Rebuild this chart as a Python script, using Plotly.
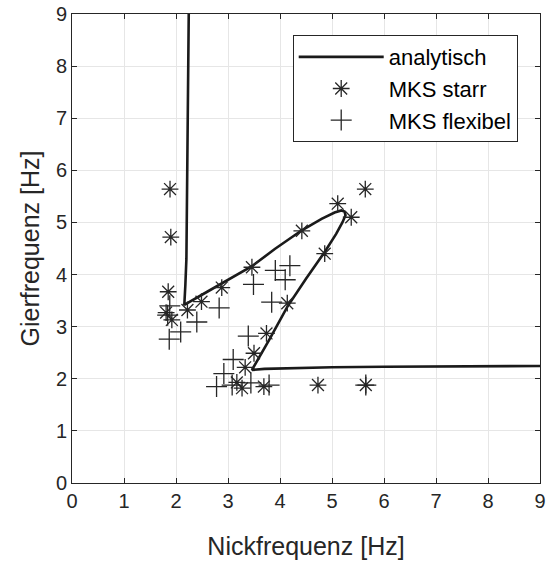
import plotly.graph_objects as go

# analytical curve (Nickfrequenz, Gierfrequenz) in Hz
curve_x = [2.245, 2.235, 2.225, 2.215, 2.20, 2.18, 2.16,
           2.6, 3.0, 3.46, 3.9, 4.42, 4.8, 5.05, 5.18, 5.24, 5.26,
           5.2, 5.08, 4.85, 4.5, 4.14, 3.8, 3.46,
           3.7, 4.2, 5.0, 6.0, 7.0, 8.0, 9.0]
curve_y = [9.0, 7.5, 6.0, 5.0, 4.3, 3.8, 3.42,
           3.67, 3.9, 4.16, 4.49, 4.85, 5.07, 5.19, 5.23, 5.21, 5.14,
           5.0, 4.78, 4.42, 3.92, 3.38, 2.76, 2.17,
           2.19, 2.205, 2.22, 2.23, 2.235, 2.24, 2.245]

# MKS starr
starr_x = [1.885, 1.90, 1.85, 1.81, 1.92, 2.22, 2.49, 2.88, 3.46, 4.42, 5.11, 5.37,
           5.64, 4.86, 4.14, 3.74, 3.50, 3.33, 3.17, 3.27, 3.69, 4.73, 5.65]
starr_y = [5.64, 4.72, 3.67, 3.27, 3.13, 3.32, 3.48, 3.75, 4.14, 4.84, 5.36, 5.10,
           5.64, 4.40, 3.45, 2.87, 2.49, 2.22, 1.93, 1.82, 1.85, 1.88, 1.88]

# MKS flexibel
flex_x = [1.88, 1.84, 2.40, 2.83, 2.09, 1.87, 3.49, 3.91, 4.19, 4.10, 3.84,
          3.39, 3.10, 2.92, 2.78, 3.08, 3.44, 3.79, 5.65]
flex_y = [3.40, 3.22, 3.09, 3.36, 2.90, 2.76, 3.81, 4.08, 4.17, 3.90, 3.47,
          2.82, 2.37, 2.10, 1.85, 1.88, 1.92, 1.88, 1.88]

ticks = list(range(0, 10))
dark = "#262626"
font_family = "Liberation Sans, Arial, sans-serif"

fig = go.Figure()
fig.add_trace(go.Scatter(x=curve_x, y=curve_y, mode="lines", name="analytisch",
                         line=dict(color="#1a1a1a", width=2.6)))
fig.add_trace(go.Scatter(x=starr_x, y=starr_y, mode="markers", name="MKS starr",
                         marker=dict(symbol="asterisk-open", size=14, color=dark,
                                     line=dict(color=dark, width=1.3))))
fig.add_trace(go.Scatter(x=flex_x, y=flex_y, mode="markers", name="MKS flexibel",
                         marker=dict(symbol="cross-thin-open", size=15, color=dark,
                                     line=dict(color=dark, width=1.3))))

axis_common = dict(range=[0, 9], tickvals=ticks, showgrid=True, gridcolor="#e6e6e6",
                   gridwidth=1, showline=True, linecolor=dark, linewidth=1,
                   mirror="ticks", ticks="inside", ticklen=5, tickcolor=dark,
                   zeroline=False, automargin=False, ticklabeloverflow="allow",
                   tickfont=dict(size=20, color=dark, family=font_family))

fig.update_layout(
    width=551, height=562,
    margin=dict(l=72, r=11, t=14, b=79, autoexpand=False),
    paper_bgcolor="white", plot_bgcolor="white",
    font=dict(family=font_family, color=dark),
    xaxis=dict(**axis_common, title=dict(text="Nickfrequenz [Hz]",
                                         font=dict(size=25, color=dark), standoff=26)),
    yaxis=dict(**axis_common, title=dict(text="Gierfrequenz [Hz]",
                                         font=dict(size=25, color=dark), standoff=9)),
    legend=dict(x=0.4716, y=0.955, xanchor="left", yanchor="top",
                bgcolor="white", bordercolor=dark, borderwidth=1,
                font=dict(size=22, color="#000000", family=font_family),
                itemwidth=85),
    showlegend=True,
)

# remove the default 8px page margin so the figure fills the window exactly
fig.write_html("out.html",
               config={"displayModeBar": False},
               post_script="document.body.style.margin='0';document.body.style.overflow='hidden';")
